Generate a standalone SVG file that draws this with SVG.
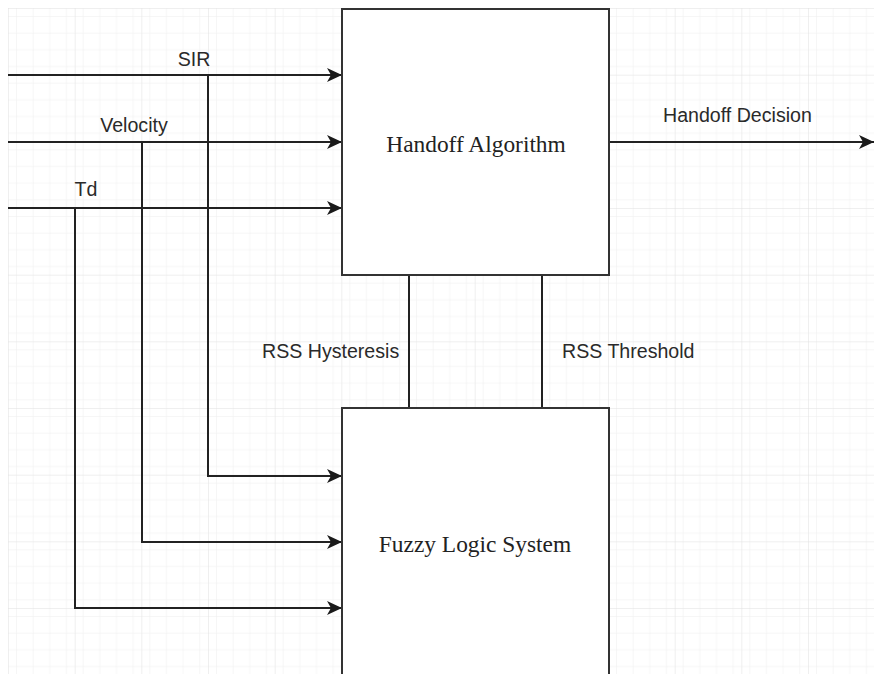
<svg xmlns="http://www.w3.org/2000/svg" width="874" height="674" viewBox="0 0 874 674">
  <defs>
    <pattern id="minor" x="8" y="8" width="16.667" height="16.667" patternUnits="userSpaceOnUse">
      <path d="M0,0 H16.667 M0,0 V16.667" fill="none" stroke="#eeeeee" stroke-width="1"/>
    </pattern>
    <pattern id="major" x="8" y="8" width="66.667" height="66.667" patternUnits="userSpaceOnUse">
      <rect width="66.667" height="66.667" fill="url(#minor)"/>
      <path d="M0,0 H66.667 M0,0 V66.667" fill="none" stroke="#e0e0e0" stroke-width="1"/>
    </pattern>
    <marker id="arrow" markerUnits="userSpaceOnUse" markerWidth="16" markerHeight="14" refX="15" refY="7" orient="auto">
      <path d="M0,0 L15,7 L0,14 L4,7 Z" fill="#1a1a1a"/>
    </marker>
  </defs>
  <style>
    .edge { fill: none; stroke: #222; stroke-width: 2; }
    .box { fill: #ffffff; stroke: #333; stroke-width: 2; }
    .lbl { font-family: "Liberation Sans", Arial, sans-serif; font-size: 19.6px; fill: #2a2a2a; }
    .title { font-family: "Liberation Serif", "Times New Roman", serif; font-size: 23.4px; fill: #222; text-anchor: middle; }
  </style>
  <rect x="0" y="0" width="874" height="674" fill="#ffffff"/>
  <rect x="8" y="8" width="866" height="666" fill="url(#major)"/>

  <g id="connectors">
    <path class="edge" d="M8,75 H342" marker-end="url(#arrow)"/>
    <path class="edge" d="M8,142 H342" marker-end="url(#arrow)"/>
    <path class="edge" d="M8,208 H342" marker-end="url(#arrow)"/>
    <path class="edge" d="M208,75 V476 H342" marker-end="url(#arrow)"/>
    <path class="edge" d="M142,142 V542 H342" marker-end="url(#arrow)"/>
    <path class="edge" d="M75,208 V608 H342" marker-end="url(#arrow)"/>
    <path class="edge" d="M609,142 H874" marker-end="url(#arrow)"/>
    <path class="edge" d="M409,275 V408"/>
    <path class="edge" d="M542,275 V408"/>
    <text class="lbl" x="194" y="66" text-anchor="middle">SIR</text>
    <text class="lbl" x="134" y="132" text-anchor="middle">Velocity</text>
    <text class="lbl" x="86" y="196" text-anchor="middle">Td</text>
    <text class="lbl" x="663" y="122">Handoff Decision</text>
    <text class="lbl" x="262" y="358">RSS Hysteresis</text>
    <text class="lbl" x="562" y="358">RSS Threshold</text>
  </g>

  <g id="handoff-algorithm">
    <rect class="box" x="342" y="9" width="267" height="266"/>
    <text class="title" x="476" y="152">Handoff Algorithm</text>
  </g>

  <g id="fuzzy-logic-system">
    <rect class="box" x="342" y="408" width="267" height="280"/>
    <text class="title" x="475" y="552">Fuzzy Logic System</text>
  </g>
</svg>
